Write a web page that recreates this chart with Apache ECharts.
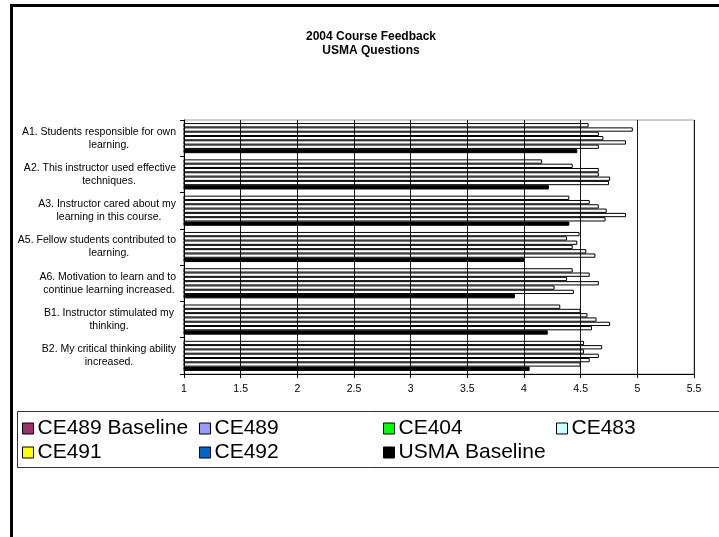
<!DOCTYPE html>
<html>
<head>
<meta charset="utf-8">
<style>
  html, body { margin: 0; padding: 0; background: #fff; }
  #chart { width: 719px; height: 537px; }
</style>
<script src="https://cdn.jsdelivr.net/npm/echarts@6/dist/echarts.min.js"></script>
</head>
<body>
<div id="chart"></div>
<script>
// Survey questions (line breaks as they wrap on the axis)
const categories = [
  'A1. Students responsible for own\nlearning.',
  'A2. This instructor used effective\ntechniques.',
  'A3. Instructor cared about my\nlearning in this course.',
  'A5. Fellow students contributed to\nlearning.',
  'A6. Motivation to learn and to\ncontinue learning increased.',
  'B1. Instructor stimulated my\nthinking.',
  'B2. My critical thinking ability\nincreased.'
];

// Mean ratings per course, one value per question
const ce489Baseline = [4.57, 4.16, 4.40, 4.49, 4.43, 4.32, 4.53];
const ce489         = [4.96, 4.43, 4.58, 4.38, 4.58, 4.50, 4.69];
const ce404         = [4.66, 4.66, 4.66, 4.47, 4.38, 4.56, 4.53];
const ce483         = [4.70, 4.66, 4.73, 4.43, 4.66, 4.64, 4.66];
const ce491         = [4.90, 4.76, 4.90, 4.55, 4.27, 4.76, 4.58];
const ce492         = [4.66, 4.75, 4.72, 4.63, 4.44, 4.60, 4.50];
const usmaBaseline  = [4.47, 4.22, 4.40, 4.00, 3.92, 4.21, 4.05];

const seriesNames = ['CE489 Baseline', 'CE489', 'CE404', 'CE483', 'CE491', 'CE492', 'USMA Baseline'];
const seriesValues = [ce489Baseline, ce489, ce404, ce483, ce491, ce492, usmaBaseline];
const legendSwatches = ['#993366', '#9999FF', '#00FF00', '#CCFFFF', '#FFFF00', '#0066CC', '#000000'];

// Value axis range
const xMin = 1, xMax = 5.5, xStep = 0.5;

const FONT = '"Liberation Sans", Arial, sans-serif';

// Label lines wider than the label box hug the axis; shorter ones are centred
const measureCtx = document.createElement('canvas').getContext('2d');
measureCtx.font = '10.5px "Liberation Sans"';
function axisLabelFormatter(value) {
  return value.split('\n').map(line => {
    const w = measureCtx.measureText(line).width;
    return (w > 132 ? '{r|' : '{c|') + line + '}';
  }).join('\n');
}

const legendSlots = [
  [22, 418], [199, 418], [383, 418], [556, 418],
  [22, 442], [199, 442], [383, 442]
];

const chart = echarts.init(document.getElementById('chart'), null, { renderer: 'canvas' });

chart.setOption({
  backgroundColor: '#ffffff',
  animation: false,
  title: {
    text: '2004 Course Feedback\nUSMA Questions',
    left: 371,
    top: 30,
    textAlign: 'center',
    padding: 0,
    textStyle: {
      fontFamily: FONT,
      fontSize: 12,
      fontWeight: 'bold',
      color: '#000',
      lineHeight: 13.5
    }
  },
  grid: {
    left: 184,
    top: 120,
    width: 510,
    height: 254,
    show: true,
    borderColor: '#9a9a9a',
    borderWidth: 1,
    containLabel: false
  },
  xAxis: {
    type: 'value',
    min: xMin,
    max: xMax,
    interval: xStep,
    axisLine: { show: true, lineStyle: { color: '#000', width: 1 } },
    axisTick: { show: true, length: 4, lineStyle: { color: '#000' } },
    axisLabel: {
      fontFamily: FONT,
      fontSize: 10.5,
      color: '#000',
      margin: 10,
      formatter: v => String(v)
    },
    splitLine: { show: true, lineStyle: { color: '#1a1a1a', width: 1 } }
  },
  yAxis: {
    type: 'category',
    inverse: true,
    data: categories,
    axisLine: { show: true, lineStyle: { color: '#000', width: 1 } },
    axisTick: { show: true, length: 4, lineStyle: { color: '#000' } },
    axisLabel: {
      margin: 8,
      align: 'right',
      width: 134,
      overflow: 'none',
      lineHeight: 13,
      formatter: axisLabelFormatter,
      rich: {
        c: { align: 'center', fontFamily: FONT, fontSize: 10.5, color: '#000', lineHeight: 13 },
        r: { align: 'right', fontFamily: FONT, fontSize: 10.5, color: '#000', lineHeight: 13 }
      }
    },
    splitLine: { show: false }
  },
  legend: seriesNames.map((name, i) => ({
    data: [{
      name: name,
      itemStyle: { color: legendSwatches[i], borderColor: '#000', borderWidth: 1 }
    }],
    left: legendSlots[i][0],
    top: legendSlots[i][1],
    padding: 0,
    icon: 'rect',
    itemWidth: 11,
    itemHeight: 11,
    selectedMode: false,
    textStyle: { fontFamily: FONT, fontSize: 21, color: '#000', padding: [0, 0, 0, -1] }
  })),
  series: seriesNames.map((name, i) => ({
    name: name,
    type: 'bar',
    data: seriesValues[i],
    barGap: '0%',
    barCategoryGap: '17%',
    itemStyle: i === seriesNames.length - 1
      ? { color: '#000', borderColor: '#000', borderWidth: 1 }
      : { color: 'rgba(255,255,255,0)', borderColor: '#000', borderWidth: 1 }
  })),
  graphic: [
    {
      // chart frame
      type: 'rect',
      shape: { x: 11.5, y: 5.5, width: 760, height: 600 },
      style: { fill: 'none', stroke: '#000', lineWidth: 3 },
      silent: true
    },
    {
      // legend frame
      type: 'rect',
      shape: { x: 17.5, y: 411.5, width: 740, height: 56 },
      style: { fill: 'none', stroke: '#333', lineWidth: 1 },
      silent: true
    }
  ]
});
</script>
</body>
</html>
